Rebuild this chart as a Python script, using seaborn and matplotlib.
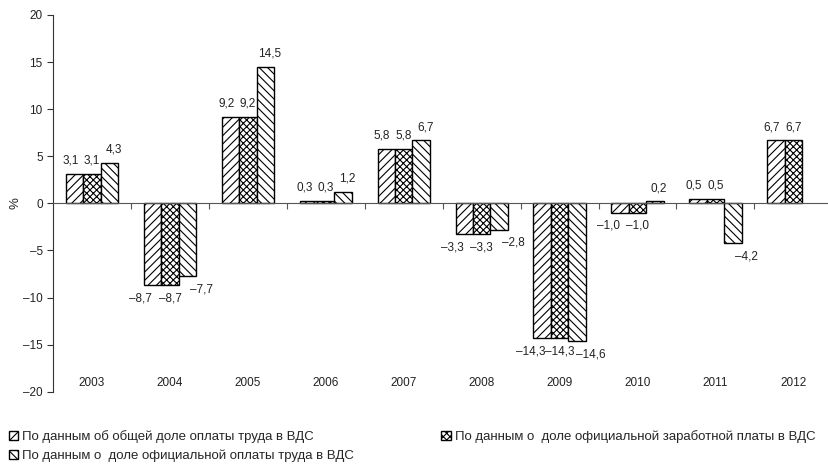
import numpy as np
import pandas as pd
import matplotlib
matplotlib.use('Agg')
import matplotlib.pyplot as plt
import seaborn as sns
from matplotlib.patches import Patch

years = ['2003', '2004', '2005', '2006', '2007', '2008', '2009', '2010', '2011', '2012']
series_names = ['По данным об общей доле оплаты труда в ВДС',
                'По данным о  доле официальной заработной платы в ВДС',
                'По данным о  доле официальной оплаты труда в ВДС']
total_share = [3.1, -8.7, 9.2, 0.3, 5.8, -3.3, -14.3, -1.0, 0.5, 6.7]
official_wage = [3.1, -8.7, 9.2, 0.3, 5.8, -3.3, -14.3, -1.0, 0.5, 6.7]
official_pay = [4.3, -7.7, 14.5, 1.2, 6.7, -2.8, -14.6, 0.2, -4.2, np.nan]

hatches = ['////', 'xxxxx', '\\\\\\\\']
# horizontal nudge of the value labels, per series (points)
label_dx_pos = [-3, 0, 3]
label_dx_neg = [-8.5, 0, 10]

sns.set_style('white')
plt.rcParams['font.family'] = ['Liberation Sans', 'DejaVu Sans']
plt.rcParams['hatch.linewidth'] = 0.8

df = pd.DataFrame({
    'year': years * 3,
    'series': sum([[s] * len(years) for s in series_names], []),
    'value': total_share + official_wage + official_pay,
})

fig = plt.figure(figsize=(8.29, 4.67), dpi=100)
ax = fig.add_axes([0.064, 0.161, 0.94, 0.807])

sns.barplot(data=df, x='year', y='value', hue='series', hue_order=series_names,
            order=years, width=0.67, ax=ax, legend=False, errorbar=None)

for cont, h in zip(ax.containers, hatches):
    for bar in cont:
        bar.set_facecolor('white')
        bar.set_edgecolor('black')
        bar.set_linewidth(1.0)
        bar.set_hatch(h)


def fmt(v):
    s = f'{abs(v):.1f}'.replace('.', ',')
    return ('\u2013' + s) if v < 0 else s


for k, cont in enumerate(ax.containers):
    for bar in cont:
        v = bar.get_height()
        if np.isnan(v):
            continue
        xc = bar.get_x() + bar.get_width() / 2
        if v >= 0:
            off = (label_dx_pos[k], 9.5)
        else:
            off = (label_dx_neg[k], -9.5)
        ax.annotate(fmt(v), (xc, v), xytext=off, textcoords='offset points',
                    ha='center', va='center', fontsize=8.5, color='#222222')

for i, y in enumerate(years):
    ax.text(i, -19.1, y, ha='center', va='center', fontsize=8.5, color='#222222')

ax.set_ylim(-20, 20)
ax.set_xlim(-0.5, 9.5)
ax.set_yticks(range(-20, 21, 5))
ax.set_yticklabels([str(t).replace('-', '\u2013') for t in range(-20, 21, 5)], fontsize=8.5)
ax.set_xticks(np.arange(0.5, 9.5, 1.0))
ax.set_xticklabels([])
ax.set_xlabel('')
ax.set_ylabel('%', fontsize=9.5)
ax.yaxis.set_label_coords(-0.04, 0.5)
ax.spines['top'].set_visible(False)
ax.spines['right'].set_visible(False)
ax.spines['bottom'].set_position(('data', 0))
ax.spines['bottom'].set_color('#555555')
ax.spines['left'].set_color('#333333')
ax.tick_params(axis='y', direction='out', length=4, left=True, color='#333333', colors='#222222')
ax.tick_params(axis='x', direction='out', length=4, bottom=True, color='#555555')

handles = [Patch(facecolor='white', edgecolor='black', hatch=h, label=s)
           for h, s in zip(hatches, series_names)]
fig.legend(handles=[handles[0], handles[2], handles[1]],
           labels=[series_names[0], series_names[2], series_names[1]],
           loc='lower left', bbox_to_anchor=(0.0, -0.01), ncol=2, frameon=False,
           fontsize=9.5, handlelength=0.7, handleheight=0.7, handletextpad=0.3,
           columnspacing=6.6, labelspacing=0.5, borderaxespad=0.3)

fig.savefig('out.png', dpi=100)
